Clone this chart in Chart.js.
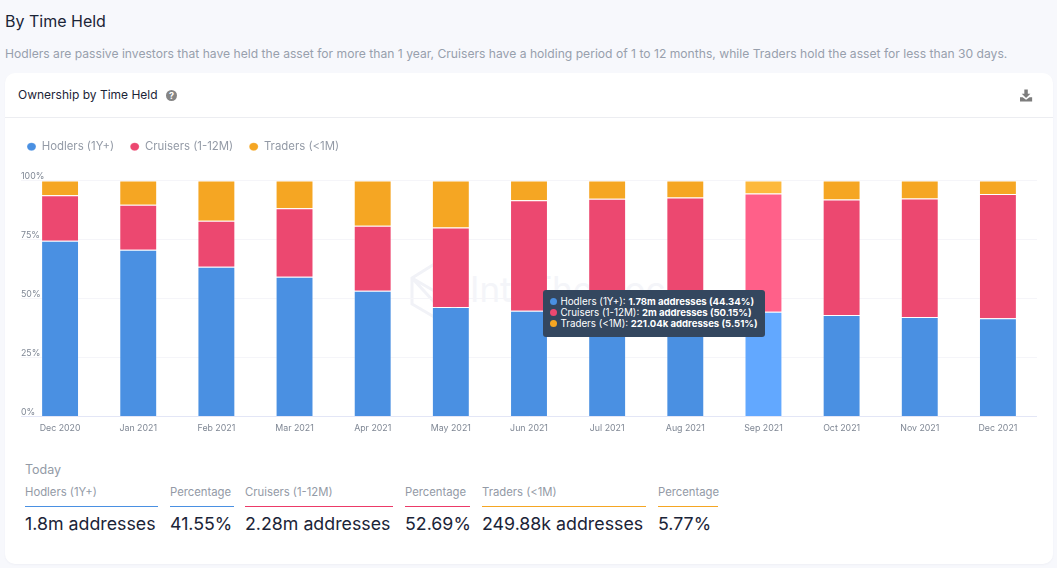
<!DOCTYPE html>
<html>
<head>
<meta charset="utf-8">
<script src="https://cdn.jsdelivr.net/npm/chart.js@4"></script>
<style>
html, body { margin: 0; padding: 0; }
body { width: 1057px; height: 568px; background: #f7f8fc; font-family: Inter, sans-serif; position: relative; overflow: hidden; }
h1 { position: absolute; left: 5px; top: 11px; margin: 0; font-size: 16px; line-height: 20px; font-weight: 400; color: #1b2437; }
.sub { position: absolute; left: 5px; top: 46px; font-size: 12.14px; line-height: 16px; color: #98a0ad; white-space: nowrap; }
.card { position: absolute; left: 5px; top: 73px; width: 1048px; height: 491px; background: #fff; border-radius: 10px; box-shadow: 0 1px 2px rgba(40,50,90,.04); }
.head { position: absolute; left: 5px; top: 117px; width: 1048px; height: 1px; background: #ecedf1; }
.title { position: absolute; left: 18px; top: 87px; font-size: 12px; line-height: 16px; color: #1b2437; white-space: nowrap; }
.help { position: absolute; left: 166px; top: 90px; width: 11px; height: 11px; border-radius: 50%; background: #858585; color: #fff; font-size: 9px; font-weight: 700; line-height: 11px; text-align: center; }
.dl { position: absolute; left: 1020px; top: 89px; }
.mark { position: absolute; left: 410px; top: 260px; color: #f4f5f9; }
.mark span { position: absolute; left: 60px; top: 8px; font-size: 35px; line-height: 42px; white-space: nowrap; }
#wrap { position: absolute; left: 11px; top: 125px; width: 1026px; height: 316px; }
#tip { position: absolute; display: none; box-sizing: border-box; width: 222px; height: 47px; padding: 6px 0 0 7px; background: #34475f; border-radius: 3px; color: #fff; font-size: 9.8px; line-height: 11px; white-space: nowrap; }
#tip i { display: inline-block; width: 7px; height: 7px; border-radius: 50%; margin-right: 3px; }
#tip b { font-size: 9.55px; font-weight: 700; }
.today { position: absolute; left: 25px; top: 462px; font-size: 12.5px; line-height: 16px; color: #939aa6; }
.stat { position: absolute; top: 484px; }
.stat .lab { font-size: 11.3px; line-height: 16px; color: #939aa6; white-space: nowrap; height: 22px; border-bottom: 1px solid; }
.stat .val { font-size: 17.8px; line-height: 24px; color: #1b2437; white-space: nowrap; margin-top: 5px; }
</style>
</head>
<body>
<h1>By Time Held</h1>
<div class="sub">Hodlers are passive investors that have held the asset for more than 1 year, Cruisers have a holding period of 1 to 12 months, while Traders hold the asset for less than 30 days.</div>
<div class="card"></div>
<div class="head"></div>
<div class="title">Ownership by Time Held</div>
<div class="help">?</div>
<svg class="dl" width="13" height="13" viewBox="0 0 15 14"><path d="M5 0h4v5h3L7 10 2 5h3z M0 9h3l4 3 4-3h3v5H0z" fill="#7d7d7d"/></svg>
<div class="mark">
  <svg width="56" height="60" viewBox="0 0 56 60" fill="none" stroke="#f1f2f7" stroke-width="3"><path d="M2 18 26 3l24 15v26L26 58 2 44z M2 18l24 14v26 M2 18l24 26"/></svg>
  <span>IntoTheBlock</span>
</div>
<div id="wrap"><canvas id="chart"></canvas></div>
<div id="tip"></div>
<div class="today">Today</div>
<div id="stats"></div>

<script>
'use strict';

// values, percent of addresses
const months = ['Dec 2020', 'Jan 2021', 'Feb 2021', 'Mar 2021', 'Apr 2021', 'May 2021', 'Jun 2021', 'Jul 2021', 'Aug 2021', 'Sep 2021', 'Oct 2021', 'Nov 2021', 'Dec 2021'];
const hodlers = [74.4, 70.6, 63.4, 59.2, 53.2, 46.4, 44.8, 44.6, 44.5, 44.34, 43.0, 42.1, 41.55];
const cruisers = [19.3, 19.1, 19.5, 29.0, 27.6, 33.6, 46.8, 47.6, 48.3, 50.15, 48.9, 50.2, 52.69];
const traders = [6.3, 10.3, 17.1, 11.8, 19.2, 20.0, 8.4, 7.8, 7.2, 5.51, 8.1, 7.7, 5.76];
const yTicks = [0, 25, 50, 75, 100];

const seriesNames = ['Hodlers (1Y+)', 'Cruisers (1-12M)', 'Traders (<1M)'];
const seriesColors = ['#4a90e2', '#ec4870', '#f5a623'];
const hoverColors = ['#62a8ff', '#ff6089', '#fdb93d'];

const hoverIndex = 9;
const hoverAddresses = ['1.78m', '2m', '221.04k'];

const todayLabels = ['Hodlers (1Y+)', 'Percentage', 'Cruisers (1-12M)', 'Percentage', 'Traders (<1M)', 'Percentage'];
const todayValues = ['1.8m addresses', '41.55%', '2.28m addresses', '52.69%', '249.88k addresses', '5.77%'];
const todayColors = ['#4a90e2', '#4a90e2', '#ec3a68', '#ec3a68', '#f5a623', '#f5a623'];
const todayLeft = [25, 170, 245, 405, 482, 658];
const todayWidth = [133, 64, 148, 65, 164, 60];

todayLabels.forEach(function (label, i) {
    let box = document.createElement('div');
    box.className = 'stat';
    box.style.left = todayLeft[i] + 'px';
    box.style.width = todayWidth[i] + 'px';
    let lab = document.createElement('div');
    lab.className = 'lab';
    lab.textContent = label;
    lab.style.borderColor = todayColors[i];
    let val = document.createElement('div');
    val.className = 'val';
    val.textContent = todayValues[i];
    box.appendChild(lab);
    box.appendChild(val);
    document.getElementById('stats').appendChild(box);
});

function makeSet(i, data) {
    return {
        label: seriesNames[i],
        data: data,
        backgroundColor: seriesColors[i],
        hoverBackgroundColor: hoverColors[i],
        borderColor: 'rgba(255,255,255,0.25)',
        hoverBorderColor: 'rgba(255,255,255,0.25)',
        borderWidth: 1,
        barPercentage: 0.485,
        categoryPercentage: 1
    };
}

// tooltip has a bold part so it is done in html
function drawTip(context) {
    const t = context.tooltip;
    const tip = document.getElementById('tip');
    if (t.opacity === 0) {
        tip.style.display = 'none';
        return;
    }
    const rows = t.dataPoints.map(function (p) {
        const i = p.datasetIndex;
        const name = seriesNames[i].replace('<', '&lt;');
        return '<div><i style="background:' + seriesColors[i] + '"></i>' + name + ': <b>' + hoverAddresses[i] + ' addresses (' + p.raw + '%)</b></div>';
    });
    tip.innerHTML = rows.join('');
    const wrap = document.getElementById('wrap');
    tip.style.display = 'block';
    tip.style.left = (wrap.offsetLeft + t.caretX - 220) + 'px';
    tip.style.top = '290px';
}

const legendGap = {
    id: 'legendGap',
    beforeInit(chart) {
        const fit = chart.legend.fit;
        chart.legend.fit = function () {
            fit.call(this);
            this.height += 18;
        };
    }
};

const chart = new Chart(document.getElementById('chart'), {
    type: 'bar',
    data: {
        labels: months,
        datasets: [makeSet(0, hodlers), makeSet(1, cruisers), makeSet(2, traders)]
    },
    plugins: [legendGap],
    options: {
        responsive: true,
        maintainAspectRatio: false,
        animation: false,
        events: [],
        interaction: { mode: 'index' },
        plugins: {
            legend: {
                position: 'top',
                align: 'start',
                onClick: null,
                labels: {
                    usePointStyle: true,
                    pointStyle: 'circle',
                    pointStyleWidth: 9,
                    boxHeight: 5.7,
                    padding: 16,
                    color: '#939aa6',
                    font: { family: 'Inter', size: 11.4 }
                }
            },
            tooltip: { enabled: false, external: drawTip }
        },
        scales: {
            x: {
                stacked: true,
                grid: { display: false, drawTicks: false },
                border: { color: '#e3e6f6', width: 1 },
                ticks: {
                    color: '#7f8794',
                    maxRotation: 0,
                    autoSkip: false,
                    padding: 7,
                    font: { family: 'Inter', size: 8.8 }
                }
            },
            y: {
                stacked: true,
                min: 0,
                max: 100,
                afterFit(scale) { scale.width = 10; },
                afterBuildTicks(scale) { scale.ticks = yTicks.map(function (v) { return { value: v }; }); },
                grid: { color: '#f5f5f9', drawTicks: false },
                border: { display: false },
                ticks: {
                    mirror: true,
                    padding: 0,
                    labelOffset: -4,
                    color: '#7f8794',
                    font: { family: 'Inter', size: 8.8 },
                    callback: function (v) { return v + '%'; }
                }
            }
        }
    }
});

const active = [0, 1, 2].map(function (d) { return { datasetIndex: d, index: hoverIndex }; });
chart.setActiveElements(active);
chart.tooltip.setActiveElements(active, { x: 0, y: 0 });
chart.update();
</script>
</body>
</html>
